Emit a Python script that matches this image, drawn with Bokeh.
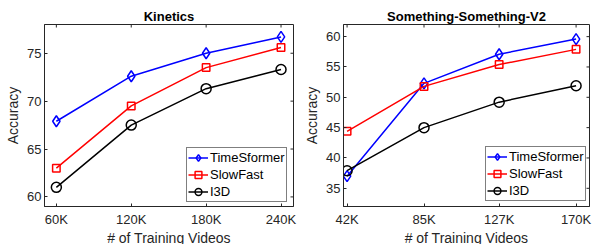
import math
from bokeh.plotting import figure
from bokeh.layouts import row
from bokeh.models import Range1d, FixedTicker, Legend, LegendItem
from bokeh.embed import file_html
from bokeh.resources import INLINE

# ---- data: Kinetics ----
kin_x = [60, 120, 180, 240]
kin_xlabels = ["60K", "120K", "180K", "240K"]
kin_timesformer = [67.9, 72.6, 75.0, 76.7]
kin_slowfast = [63.0, 69.5, 73.5, 75.6]
kin_i3d = [61.0, 67.5, 71.3, 73.3]
kin_yticks = [60, 65, 70, 75]

# ---- data: Something-Something-V2 ----
ssv2_x = [42, 85, 127, 170]
ssv2_xlabels = ["42K", "85K", "127K", "170K"]
ssv2_timesformer = [37.0, 52.3, 57.1, 59.6]
ssv2_slowfast = [44.4, 51.8, 55.4, 57.9]
ssv2_i3d = [37.9, 45.0, 49.2, 51.9]
ssv2_yticks = [35, 40, 45, 50, 55, 60]

series_names = ["TimeSformer", "SlowFast", "I3D"]

FONT = "Liberation Sans"
AX = "#262626"


def panel(title, xs, xlabels, ys_list, xr, yr, yticks, fw, mbl, mbr, leg_loc):
    p = figure(frame_width=fw, frame_height=182, x_range=Range1d(*xr), y_range=Range1d(*yr),
               output_backend="svg", toolbar_location=None, min_border_left=mbl,
               min_border_right=mbr, min_border_top=24, min_border_bottom=36,
               title=title)
    p.title.align = "center"
    p.title.text_font = FONT
    p.title.text_font_size = "13px"
    p.title.text_font_style = "bold"
    p.title.text_color = "black"
    p.title.standoff = 2
    p.xgrid.visible = False
    p.ygrid.visible = False
    p.outline_line_color = AX
    p.outline_line_alpha = 1

    p.xaxis.ticker = FixedTicker(ticks=xs)
    p.xaxis.major_label_overrides = {x: l for x, l in zip(xs, xlabels)}
    p.yaxis.ticker = FixedTicker(ticks=yticks)
    p.xaxis.axis_label = "# of Training Videos"
    p.yaxis.axis_label = "Accuracy"
    for ax in [p.xaxis[0], p.yaxis[0]]:
        ax.axis_line_color = AX
        ax.major_tick_line_color = AX
        ax.major_tick_in = 3
        ax.major_tick_out = 0
        ax.minor_tick_line_color = None
        ax.major_label_text_font = FONT
        ax.major_label_text_font_size = "13px"
        ax.major_label_text_color = AX
        ax.axis_label_text_font = FONT
        ax.axis_label_text_font_size = "14px"
        ax.axis_label_text_font_style = "normal"
        ax.axis_label_text_color = AX
    p.xaxis.major_label_standoff = 5
    p.yaxis.major_label_standoff = 3
    p.xaxis.axis_label_standoff = 0
    p.yaxis.axis_label_standoff = 3

    # inward ticks on the top and right edges (clipped dash markers)
    p.scatter(xs, [yr[1]] * len(xs), marker="dash", size=6, angle=math.pi / 2,
              line_color=AX, line_width=1)
    p.scatter([xr[1]] * len(yticks), yticks, marker="dash", size=6,
              line_color=AX, line_width=1)

    styles = [("#0000FF", "diamond", 11), ("#FF0000", "square", 7.5), ("black", "circle", 10)]
    items = []
    for name, ys, (c, m, s) in zip(series_names, ys_list, styles):
        lr = p.line(xs, ys, line_color=c, line_width=1.5)
        sr = p.scatter(xs, ys, marker=m, size=s, line_color=c, fill_color=None, line_width=1.5)
        items.append(LegendItem(label=name, renderers=[lr, sr]))
    leg = Legend(items=items, location=leg_loc)
    leg.border_line_color = "black"
    leg.border_line_width = 1
    leg.background_fill_color = "white"
    leg.background_fill_alpha = 1
    leg.label_text_font = FONT
    leg.label_text_font_size = "13px"
    leg.label_text_color = "black"
    leg.glyph_width = 20
    leg.glyph_height = 17
    leg.label_height = 17
    leg.spacing = 0
    leg.padding = 1
    leg.margin = 0
    leg.label_standoff = 2
    p.add_layout(leg)
    return p


p1 = panel("Kinetics", kin_x, kin_xlabels, [kin_timesformer, kin_slowfast, kin_i3d],
           (50.5, 250), (59, 78), kin_yticks, 249, 44, 8, (142, 4))
p2 = panel("Something-Something-V2", ssv2_x, ssv2_xlabels, [ssv2_timesformer, ssv2_slowfast, ssv2_i3d],
           (40, 177.5), (32, 62), ssv2_yticks, 246, 42, 5, (142, 5))

layout = row(p1, p2)
open("out.html", "w").write(file_html(layout, INLINE))
